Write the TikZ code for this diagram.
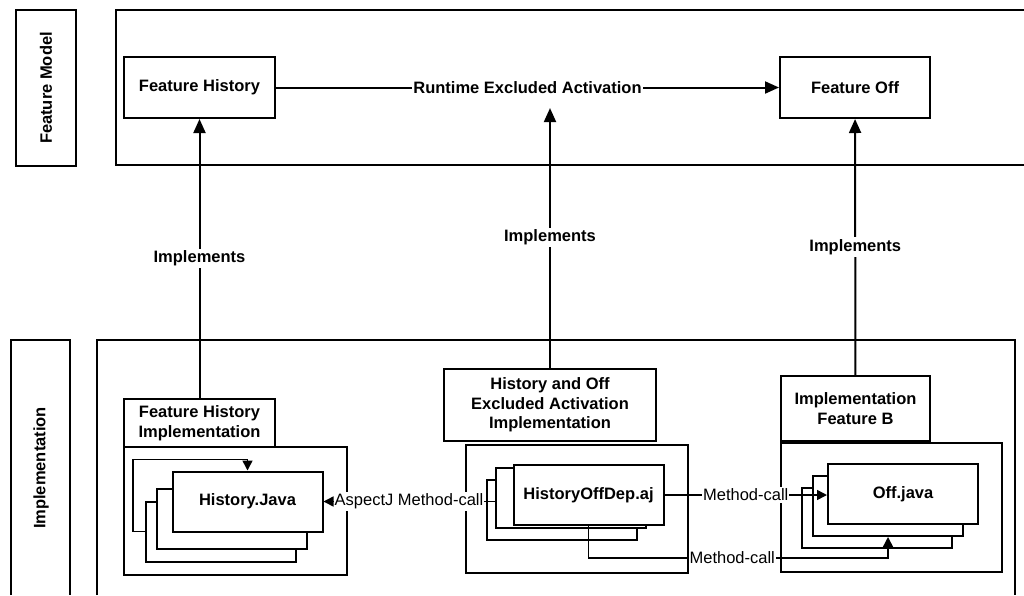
\documentclass[tikz,border=0pt]{standalone}
\usepackage{fontspec}
\setmainfont{Liberation Sans}
\usetikzlibrary{arrows.meta}
\newcommand\diafont{\fontsize{16.5}{19.5}\selectfont}

\begin{document}
\begin{tikzpicture}[x=1pt,y=-1pt,
  every node/.style={font=\diafont},
  box/.style={draw,line width=2pt,fill=white,font=\diafont\bfseries,align=center,inner sep=2pt},
  grp/.style={draw,line width=2pt},
  file/.style={box,minimum width=150pt,minimum height=60pt},
  lbl/.style={fill=white,inner xsep=1pt,inner ysep=2pt,font=\diafont\bfseries},
  call/.style={lbl,font=\diafont},
  >={Triangle[length=14pt,width=12pt]}]
\useasboundingbox (0,0) rectangle (1024,595);

% layers
\node[box,minimum width=156pt,minimum height=60pt,rotate=90] (fmlayer) at (46,88) {Feature Model};
\draw[grp] (1024,10) -| (116,165) -- (1024,165);
\draw[grp] (11,595) |- (70,340) -- (70,595);
\node[font=\diafont\bfseries,rotate=90] (implayer) at (41,468) {Implementation};
\draw[grp] (97,595) |- (1015,340) -- (1015,595);

% feature model
\node[box,minimum width=151pt,minimum height=61pt] (fhist) at (199.5,87.5) {Feature History};
\node[box,minimum width=150pt,minimum height=61pt] (foff) at (855,87.5) {Feature Off};

% implementation groups
\node[grp,minimum width=223pt,minimum height=128pt] (histgrp) at (235.5,511) {};
\node[grp,minimum width=222pt,minimum height=128pt] (hogrp) at (577,509) {};
\node[grp,minimum width=221pt,minimum height=129pt] (offgrp) at (891.5,507.5) {};
\node[box,minimum width=151pt,minimum height=48pt] (histimp) at (199.5,423) {Feature History\\Implementation};
\node[box,minimum width=212pt,minimum height=72pt] (hoimp) at (550,405) {History and Off\\Excluded Activation\\Implementation};
\node[box,minimum width=149pt,minimum height=65pt] (offimp) at (855.5,408.5) {Implementation\\Feature B};

% file stacks
\node[file] (histc) at (221,531.5) {};
\node[file] (histb) at (232,519) {};
\node[file] (histf) at (247.5,501.5) {History.Java};

\node[file] (hoc) at (561.5,510) {};
\node[file] (hob) at (570.5,498) {};
\node[file] (hof) at (588.5,495) {HistoryOffDep.aj};

\node[file] (offc) at (876.5,518) {};
\node[file] (offb) at (888,506) {};
\node[file] (offf) at (903,494) {Off.java};

\coordinate (mcturn) at (888,558);

\begin{scope}[line width=2pt,black,->]
\draw (fhist) -- node[lbl] (runlbl) {Runtime Excluded Activation} (foff);
\draw (histimp) -- node[lbl]{Implements} (fhist);
\draw[shorten >=11.5pt] (hoimp) -- node[lbl,pos=0.48]{Implements} (hoimp.north |- runlbl.south);
\draw (offimp) -- node[lbl]{Implements} (foff);
\end{scope}

\begin{scope}[line width=1.5pt,black,-{Triangle[length=10pt,width=10pt]}]
\draw (histc.west) -- ++(-12,0) |- ([yshift=11pt]histf.north) -- (histf.north);
\draw (hob.west |- histf.east) -- node[call]{AspectJ Method-call} (histf.east);
\draw (hof.east) -- node[call]{Method-call} (offf.west |- hof.east);
\draw (hof.south) |- node[call,pos=0.74]{Method-call} (mcturn) -- (offb.south);
\end{scope}

\end{tikzpicture}
\end{document}
